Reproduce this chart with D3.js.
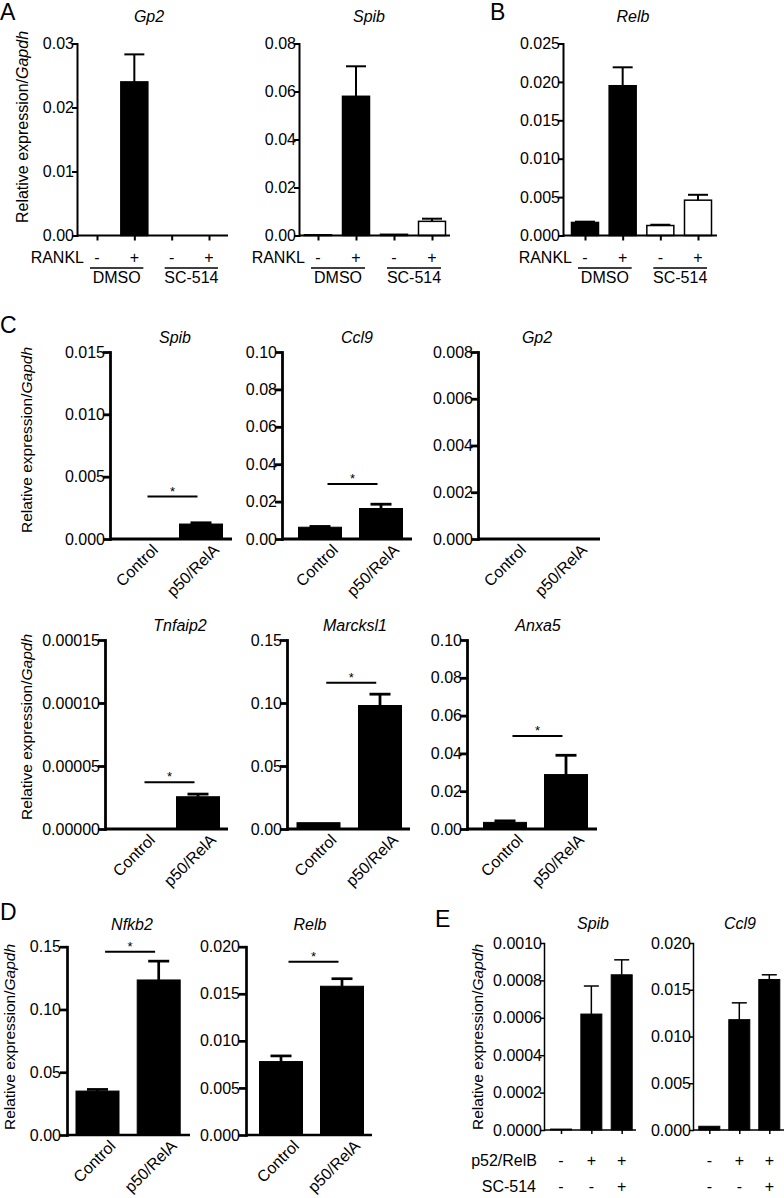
<!DOCTYPE html>
<html><head><meta charset="utf-8">
<script src="https://cdn.jsdelivr.net/npm/d3@7"></script>
<style>
body{margin:0;background:#fff}
svg text{font-family:Arial,"Liberation Sans",sans-serif;fill:#000}
</style>
</head><body>
<svg id="fig" width="784" height="1198"></svg>
<script>
// ---------------- DATA ----------------
const aConditions = ["DMSO -", "DMSO +", "SC-514 -", "SC-514 +"];
const aRankl = ["-", "+", "-", "+"];
const aGroups = ["DMSO", "SC-514"];
const aFills = ["#000", "#000", "#fff", "#fff"];

const aGp2Mean = [0, 0.024, 0, 0];
const aGp2Err = [0, 0.0043, 0, 0];
const aGp2Ticks = [0, 0.01, 0.02, 0.03];

const aSpibMean = [0.0003, 0.058, 0.0005, 0.0059];
const aSpibErr = [0, 0.0125, 0, 0.0011];
const aSpibTicks = [0, 0.02, 0.04, 0.06, 0.08];

const bRelbMean = [0.0017, 0.0195, 0.0013, 0.0046];
const bRelbErr = [0.0001, 0.0024, 0.0001, 0.0007];
const bRelbTicks = [0, 0.005, 0.010, 0.015, 0.020, 0.025];

const cGroups = ["Control", "p50/RelA"];
const cFills = ["#000", "#000"];

const cSpibMean = [0, 0.0012];
const cSpibErr = [0, 0.0001];
const cSpibTicks = [0, 0.005, 0.010, 0.015];
const cSpibSig = 0.0034;

const cCcl9Mean = [0.0063, 0.0163];
const cCcl9Err = [0.0004, 0.0023];
const cCcl9Ticks = [0, 0.02, 0.04, 0.06, 0.08, 0.10];
const cCcl9Sig = 0.0294;

const cGp2Mean = [0, 0.00002];
const cGp2Err = [0, 0];
const cGp2Ticks = [0, 0.002, 0.004, 0.006, 0.008];

const cTnfaip2Mean = [0, 0.0000256];
const cTnfaip2Err = [0, 0.0000021];
const cTnfaip2Ticks = [0, 0.00005, 0.00010, 0.00015];
const cTnfaip2Sig = 0.0000371;

const cMarcksl1Mean = [0.005, 0.098];
const cMarcksl1Err = [0, 0.009];
const cMarcksl1Ticks = [0, 0.05, 0.10, 0.15];
const cMarcksl1Sig = 0.116;

const cAnxa5Mean = [0.0035, 0.0288];
const cAnxa5Err = [0.0008, 0.0102];
const cAnxa5Ticks = [0, 0.02, 0.04, 0.06, 0.08, 0.10];
const cAnxa5Sig = 0.0492;

const dNfkb2Mean = [0.035, 0.1235];
const dNfkb2Err = [0.0013, 0.015];
const dNfkb2Ticks = [0, 0.05, 0.10, 0.15];
const dNfkb2Sig = 0.146;

const dRelbMean = [0.0078, 0.0158];
const dRelbErr = [0.0006, 0.0008];
const dRelbTicks = [0, 0.005, 0.010, 0.015, 0.020];
const dRelbSig = 0.0184;

const eConditions = ["none", "p52/RelB", "p52/RelB + SC-514"];
const eP52Row = ["-", "+", "+"];
const eScRow = ["-", "-", "+"];
const eFills = ["#000", "#000", "#000"];

const eSpibMean = [0.000005, 0.00062, 0.00083];
const eSpibErr = [0, 0.00015, 0.00008];
const eSpibTicks = [0, 0.0002, 0.0004, 0.0006, 0.0008, 0.0010];

const eCcl9Mean = [0.0004, 0.0118, 0.0161];
const eCcl9Err = [0, 0.0018, 0.0005];
const eCcl9Ticks = [0, 0.005, 0.010, 0.015, 0.020];

// ---------------- DRAWING ----------------
const svg = d3.select("#fig");
const FONT = 'Arial, "Liberation Sans", sans-serif';

function drawPanel(p) {
  const g = svg.append("g");
  const x = d3.scalePoint().domain(p.cats).range(p.xr);
  const y = d3.scaleLinear().domain([0, p.ymax]).range([p.y0, p.y1]);
  const rows = p.cats.map((c, i) => ({c, m: p.mean[i], e: p.err[i], f: p.fills[i]}));

  // bars
  g.selectAll("rect.bar").data(rows.filter(r => r.m > 0)).join("rect")
    .attr("class", "bar")
    .attr("x", r => x(r.c) - p.bw / 2)
    .attr("y", r => y(r.m))
    .attr("width", p.bw)
    .attr("height", r => y(0) - y(r.m))
    .attr("fill", r => r.f)
    .attr("stroke", "#000")
    .attr("stroke-width", p.barSw);

  // error bars (upper only)
  const eb = rows.filter(r => r.e > 0);
  g.selectAll("line.ev").data(eb).join("line")
    .attr("x1", r => x(r.c)).attr("x2", r => x(r.c))
    .attr("y1", r => y(r.m)).attr("y2", r => y(r.m + r.e))
    .attr("stroke", "#000").attr("stroke-width", p.sw);
  g.selectAll("line.ec").data(eb).join("line")
    .attr("x1", r => x(r.c) - p.capW / 2).attr("x2", r => x(r.c) + p.capW / 2)
    .attr("y1", r => y(r.m + r.e)).attr("y2", r => y(r.m + r.e))
    .attr("stroke", "#000").attr("stroke-width", p.sw);

  // x axis line
  g.append("line").attr("x1", p.x0).attr("x2", p.x1)
    .attr("y1", y(0)).attr("y2", y(0))
    .attr("stroke", "#000").attr("stroke-width", p.sw);

  if (p.xTicks) {
    const xa = g.append("g").attr("transform", `translate(0,${y(0)})`)
      .call(d3.axisBottom(x).tickSize(p.xTickLen).tickSizeOuter(0).tickFormat(() => ""));
    xa.select(".domain").remove();
    xa.selectAll(".tick line").attr("stroke-width", p.sw);
  }

  // y axis
  const ya = g.append("g").attr("transform", `translate(${p.x0},0)`)
    .call(d3.axisLeft(y).tickValues(p.ticks).tickFormat(d3.format(p.fmt))
      .tickSize(p.tick).tickSizeOuter(0).tickPadding(p.pad));
  ya.attr("font-family", FONT).attr("font-size", p.fs || 16);
  ya.select(".domain").attr("stroke-width", p.sw).attr("stroke-linecap", "square");
  ya.selectAll(".tick line").attr("stroke-width", p.sw);
  ya.selectAll(".tick text").attr("fill", "#000");

  // title
  g.append("text").attr("x", p.tx).attr("y", p.ty)
    .attr("text-anchor", "middle").attr("font-size", 16)
    .attr("font-style", "italic").text(p.title);

  // rotated category labels
  if (p.rot) {
    g.selectAll("text.xl").data(p.cats).join("text")
      .attr("class", "xl")
      .attr("text-anchor", "end").attr("font-size", 16)
      .attr("transform", c => `translate(${x(c) + 19},${y(0) + 12}) rotate(-45)`)
      .text(c => c);
  }

  // significance
  if (p.sig !== undefined) {
    const mid = (x(p.cats[0]) + x(p.cats[1])) / 2;
    const sy = y(p.sig);
    g.append("line").attr("x1", mid - 23).attr("x2", mid + 27)
      .attr("y1", sy).attr("y2", sy)
      .attr("stroke", "#000").attr("stroke-width", 2);
    g.append("text").attr("x", mid + 2).attr("y", sy - 1)
      .attr("text-anchor", "middle").attr("font-size", 13).text("*");
  }
  return {x, y, g};
}

function yLabel(xb, cy, fs) {
  const t = svg.append("text")
    .attr("transform", `translate(${xb},${cy}) rotate(-90)`)
    .attr("text-anchor", "middle").attr("font-size", fs);
  t.append("tspan").text("Relative expression/");
  t.append("tspan").attr("font-style", "italic").text("Gapdh");
}

function letter(s, x, y) {
  svg.append("text").attr("x", x).attr("y", y).attr("font-size", 23).text(s);
}

// ----- Panel A / B -----
const abCommon = {cats: aConditions, fills: aFills, y0: 235.5, y1: 43.5, bw: 27, capW: 20,
  sw: 2, barSw: 1.5, tick: 5, pad: -2, xTicks: true, xTickLen: 5, ty: 22};

const panelsAB = [
  Object.assign({}, abCommon, {mean: aGp2Mean, err: aGp2Err, ticks: aGp2Ticks, ymax: 0.03, fmt: ".2f",
    x0: 77, x1: 228, xr: [97, 209], title: "Gp2", tx: 149}),
  Object.assign({}, abCommon, {mean: aSpibMean, err: aSpibErr, ticks: aSpibTicks, ymax: 0.08, fmt: ".2f",
    x0: 299, x1: 450, xr: [318, 432], title: "Spib", tx: 369}),
  Object.assign({}, abCommon, {mean: bRelbMean, err: bRelbErr, ticks: bRelbTicks, ymax: 0.025, fmt: ".3f",
    x0: 563, x1: 717, xr: [585, 698], title: "Relb", tx: 633})
];
panelsAB.forEach(p => {
  const {x} = drawPanel(p);
  const g = svg.append("g").attr("font-size", 16);
  g.append("text").attr("x", x(aConditions[0]) - 13).attr("y", 263)
    .attr("text-anchor", "end").attr("font-size", 16).text("RANKL");
  g.selectAll("text.sg").data(aConditions).join("text")
    .attr("class", "sg").attr("x", c => x(c)).attr("y", 263)
    .attr("text-anchor", "middle").attr("font-size", 16)
    .text((c, i) => aRankl[i]);
  aGroups.forEach((grp, gi) => {
    const c0 = x(aConditions[gi * 2]), c1 = x(aConditions[gi * 2 + 1]);
    g.append("line").attr("x1", c0 - 7).attr("x2", c1 + 9).attr("y1", 268).attr("y2", 268)
      .attr("stroke", "#000").attr("stroke-width", 1.4);
    g.append("text").attr("x", (c0 + c1) / 2 + 1).attr("y", 283)
      .attr("text-anchor", "middle").attr("font-size", 16).text(grp);
  });
});
yLabel(28, 127, 16);
letter("A", 0, 20);
letter("B", 490, 20);

// ----- Panel C -----
const cCommon = {cats: cGroups, fills: cFills, bw: 43, capW: 21, sw: 2.8, barSw: 1,
  tick: 7, pad: -2, rot: true};
const cTop = {y0: 539, y1: 352, ty: 343};
const cBot = {y0: 829, y1: 640, ty: 631};
[
  Object.assign({}, cCommon, cTop, {mean: cSpibMean, err: cSpibErr, ticks: cSpibTicks, ymax: 0.015, fmt: ".3f",
    x0: 110, x1: 232, xr: [140, 201], title: "Spib", tx: 175, sig: cSpibSig}),
  Object.assign({}, cCommon, cTop, {mean: cCcl9Mean, err: cCcl9Err, ticks: cCcl9Ticks, ymax: 0.10, fmt: ".2f",
    x0: 282, x1: 412, xr: [320, 381], title: "Ccl9", tx: 357, sig: cCcl9Sig}),
  Object.assign({}, cCommon, cTop, {mean: cGp2Mean, err: cGp2Err, ticks: cGp2Ticks, ymax: 0.008, fmt: ".3f",
    x0: 478, x1: 600, xr: [508, 569], title: "Gp2", tx: 537}),
  Object.assign({}, cCommon, cBot, {mean: cTnfaip2Mean, err: cTnfaip2Err, ticks: cTnfaip2Ticks, ymax: 0.00015, fmt: ".5f",
    x0: 105, x1: 228, xr: [137, 198], title: "Tnfaip2", tx: 180, sig: cTnfaip2Sig}),
  Object.assign({}, cCommon, cBot, {mean: cMarcksl1Mean, err: cMarcksl1Err, ticks: cMarcksl1Ticks, ymax: 0.15, fmt: ".2f",
    x0: 287, x1: 410, xr: [318.5, 380], title: "Marcksl1", tx: 355, sig: cMarcksl1Sig}),
  Object.assign({}, cCommon, cBot, {mean: cAnxa5Mean, err: cAnxa5Err, ticks: cAnxa5Ticks, ymax: 0.10, fmt: ".2f",
    x0: 467, x1: 597, xr: [505, 566], title: "Anxa5", tx: 538, sig: cAnxa5Sig})
].forEach(drawPanel);
yLabel(32, 440, 15.5);
yLabel(32, 727, 15.5);
letter("C", 0, 333);

// ----- Panel D -----
const dCommon = {cats: cGroups, fills: cFills, bw: 43, capW: 21, sw: 2.7, barSw: 1,
  tick: 7, pad: -1, rot: true, y0: 1135, y1: 946.7, ty: 930};
[
  Object.assign({}, dCommon, {mean: dNfkb2Mean, err: dNfkb2Err, ticks: dNfkb2Ticks, ymax: 0.15, fmt: ".2f",
    x0: 67, x1: 190, xr: [97.5, 158.7], title: "Nfkb2", tx: 132, sig: dNfkb2Sig}),
  Object.assign({}, dCommon, {mean: dRelbMean, err: dRelbErr, ticks: dRelbTicks, ymax: 0.020, fmt: ".3f",
    x0: 246, x1: 372, xr: [281, 342], title: "Relb", tx: 310, sig: dRelbSig})
].forEach(drawPanel);
yLabel(15, 1037, 15.5);
letter("D", 0, 920);

// ----- Panel E -----
const eCommon = {cats: eConditions, fills: eFills, bw: 21, capW: 15, sw: 1.5, barSw: 1,
  tick: 4, pad: -2, xTicks: true, xTickLen: 4, y0: 1130, y1: 943, ty: 929};
const ePanels = [
  Object.assign({}, eCommon, {mean: eSpibMean, err: eSpibErr, ticks: eSpibTicks, ymax: 0.001, fmt: ".4f",
    x0: 544, x1: 636, xr: [561, 621.7], title: "Spib", tx: 593}),
  Object.assign({}, eCommon, {mean: eCcl9Mean, err: eCcl9Err, ticks: eCcl9Ticks, ymax: 0.020, fmt: ".3f",
    x0: 693, x1: 790, xr: [709.3, 769.3], title: "Ccl9", tx: 740})
];
ePanels.forEach((p, pi) => {
  const {x} = drawPanel(p);
  const g = svg.append("g");
  [[eP52Row, 1166], [eScRow, 1191.5]].forEach(([row, yy]) => {
    g.selectAll(null).data(eConditions).join("text")
      .attr("x", c => x(c)).attr("y", yy)
      .attr("text-anchor", "middle").attr("font-size", 16)
      .text((c, i) => row[i]);
  });
  if (pi === 0) {
    g.append("text").attr("x", 537).attr("y", 1166).attr("text-anchor", "end")
      .attr("font-size", 16).text("p52/RelB");
    g.append("text").attr("x", 536).attr("y", 1191.5).attr("text-anchor", "end")
      .attr("font-size", 16).text("SC-514");
  }
});
yLabel(483, 1037, 15.5);
letter("E", 435, 927);
</script>
</body></html>
